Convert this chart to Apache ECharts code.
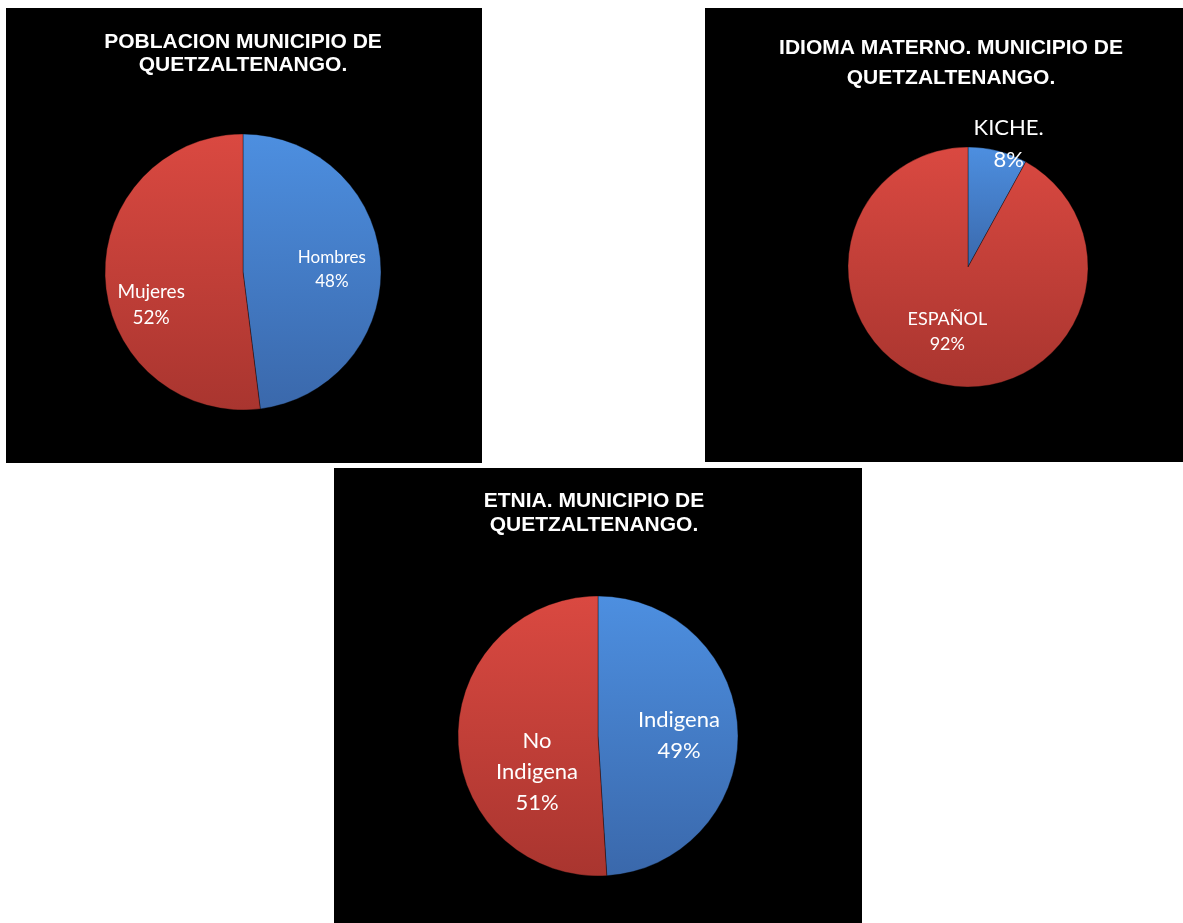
<!DOCTYPE html>
<html>
<head>
<meta charset="utf-8">
<script src="https://cdn.jsdelivr.net/npm/echarts@6/dist/echarts.min.js"></script>
<style>
  html, body { margin: 0; padding: 0; background: #ffffff; width: 1183px; height: 923px; overflow: hidden; }
  .panel { position: absolute; background: #000000; }
</style>
</head>
<body>
<div id="c1" class="panel" style="left:6px;top:8px;width:476px;height:455px;"></div>
<div id="c2" class="panel" style="left:705px;top:8px;width:478px;height:454px;"></div>
<div id="c3" class="panel" style="left:334px;top:468px;width:528px;height:455px;"></div>
<script>
// ---- Data ----
const poblacionTitle = 'POBLACION MUNICIPIO DE\nQUETZALTENANGO.';
const poblacionCategories = ['Hombres', 'Mujeres'];
const poblacionValues = [48, 52];

const idiomaTitle = 'IDIOMA MATERNO. MUNICIPIO DE\nQUETZALTENANGO.';
const idiomaCategories = ['KICHE.', 'ESPAÑOL'];
const idiomaValues = [8, 92];

const etniaTitle = 'ETNIA. MUNICIPIO DE\nQUETZALTENANGO.';
const etniaCategories = ['Indigena', 'No\nIndigena'];
const etniaValues = [49, 51];

// ---- Styles ----
const BLUE = { type: 'linear', x: 0, y: 0, x2: 0, y2: 1,
  colorStops: [{ offset: 0, color: '#4D8FE0' }, { offset: 1, color: '#3A68AB' }] };
const RED = { type: 'linear', x: 0, y: 0, x2: 0, y2: 1,
  colorStops: [{ offset: 0, color: '#DA4941' }, { offset: 1, color: '#A9352F' }] };

function makeOption(cfg) {
  const data = cfg.categories.map((c, i) => ({
    name: c, value: cfg.values[i],
    itemStyle: { color: i === 0 ? BLUE : RED },
    label: { fontSize: cfg.labelStyle[i].size, lineHeight: cfg.labelStyle[i].lh }
  }));
  return {
    backgroundColor: '#000000',
    animation: false,
    title: {
      text: cfg.title,
      left: cfg.titleX,
      top: cfg.titleTop,
      padding: 0,
      textAlign: 'center',
      textStyle: {
        color: '#ffffff',
        fontFamily: 'Liberation Sans, Arial, sans-serif',
        fontWeight: 'bold',
        fontSize: 21,
        lineHeight: cfg.titleLineHeight
      }
    },
    series: [{
      type: 'pie',
      center: cfg.center,
      radius: [0, cfg.radius],
      startAngle: 90,
      clockwise: true,
      silent: true,
      emphasis: { disabled: true },
      itemStyle: { borderColor: 'rgba(0,0,0,0.35)', borderWidth: 1 },
      label: {
        show: true,
        position: 'inside',
        color: '#ffffff',
        fontFamily: 'Lato, Open Sans, sans-serif',
        align: 'center',
        formatter: function (p) { return p.name + '\n' + Math.round(p.percent) + '%'; }
      },
      labelLine: { show: false },
      labelLayout: function (params) {
        const s = cfg.labelStyle[params.dataIndex];
        return { dx: s.dx, dy: s.dy };
      },
      data: data
    }]
  };
}

const charts = [
  { el: 'c1', title: poblacionTitle, categories: poblacionCategories, values: poblacionValues,
    titleX: 237, titleTop: 23, titleLineHeight: 23,
    center: [237, 264], radius: 138,
    labelStyle: [{ dx: 17, dy: 2, size: 17, lh: 24 }, { dx: -20, dy: 28, size: 19, lh: 26 }] },
  { el: 'c2', title: idiomaTitle, categories: idiomaCategories, values: idiomaValues,
    titleX: 246, titleTop: 25, titleLineHeight: 30,
    center: [263, 259], radius: 120,
    labelStyle: [{ dx: 25, dy: -62, size: 22, lh: 32 }, { dx: -5, dy: 4, size: 18, lh: 25 }] },
  { el: 'c3', title: etniaTitle, categories: etniaCategories, values: etniaValues,
    titleX: 260, titleTop: 21, titleLineHeight: 24,
    center: [264, 268], radius: 140,
    labelStyle: [{ dx: 8, dy: 2, size: 22, lh: 31 }, { dx: 12, dy: 34, size: 22, lh: 31 }] }
];

charts.forEach(cfg => {
  const chart = echarts.init(document.getElementById(cfg.el), null, { renderer: 'canvas' });
  chart.setOption(makeOption(cfg));
});
</script>
</body>
</html>
